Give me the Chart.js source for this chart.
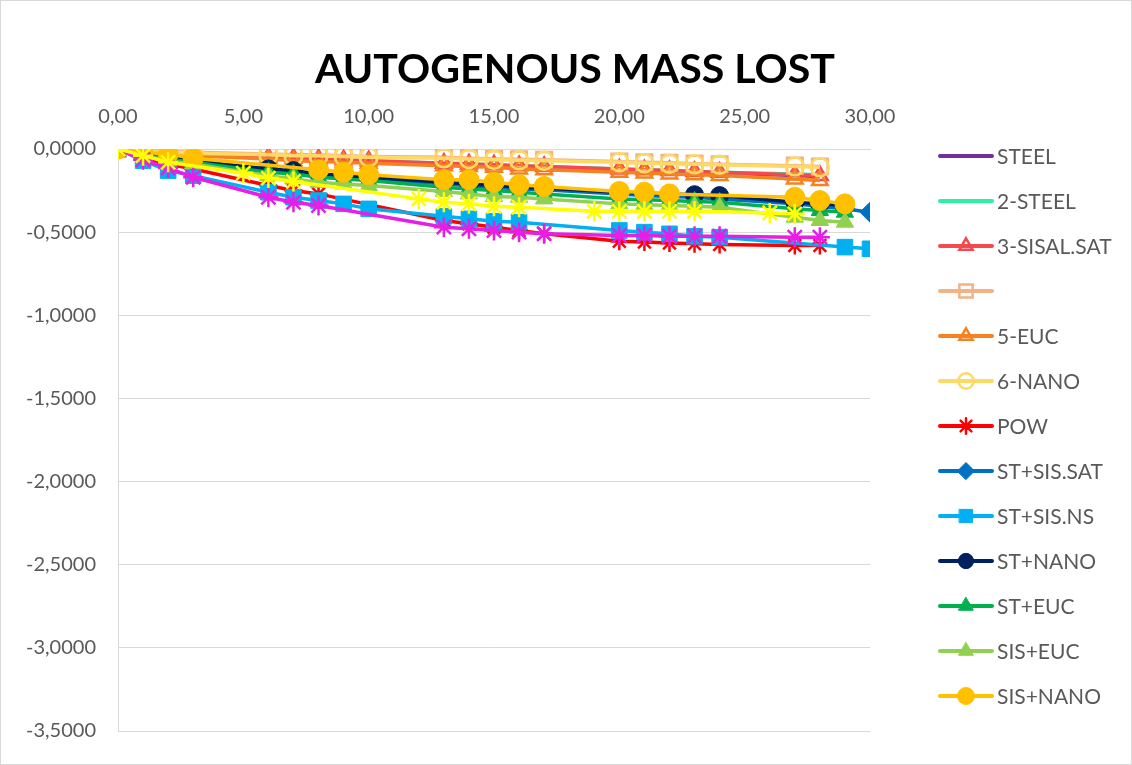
<!DOCTYPE html>
<html>
<head>
<meta charset="utf-8">
<script src="https://cdn.jsdelivr.net/npm/chart.js@4.4.1/dist/chart.umd.min.js"></script>
<style>
  html, body { margin: 0; padding: 0; background: #fff; }
  #wrap { position: relative; width: 1132px; height: 765px; }
</style>
</head>
<body>
<div id="wrap"><canvas id="massChart"></canvas></div>
<script>
const chartTitle = 'AUTOGENOUS MASS LOST';

// measuring days
const days = [0, 1, 2, 3, 6, 7, 8, 9, 10, 13, 14, 15, 16, 17, 20, 21, 22, 23, 24, 27, 28];
const days29 = days.concat([29]);
const days30 = days.concat([29, 30]);
const daysShift = [0, 1, 2, 5, 6, 7, 12, 13, 14, 15, 16, 19, 20, 21, 22, 23, 26, 27];

// mass lost values
const steel     = [0, -0.01, -0.02, -0.03, -0.05, -0.06, -0.065, -0.07, -0.075, -0.09, -0.095, -0.1, -0.105, -0.11, -0.125, -0.13, -0.135, -0.14, -0.145, -0.16, -0.165];
const steel2    = [0, -0.01, -0.02, -0.03, -0.05, -0.055, -0.06, -0.065, -0.07, -0.085, -0.09, -0.095, -0.1, -0.105, -0.12, -0.125, -0.13, -0.135, -0.14, -0.15, -0.155];
const sisalSat  = [0, -0.01, -0.02, -0.03, -0.05, -0.055, -0.06, -0.065, -0.07, -0.085, -0.09, -0.095, -0.1, -0.105, -0.12, -0.125, -0.13, -0.135, -0.14, -0.155, -0.16];
const series4   = [0, -0.01, -0.015, -0.02, -0.03, -0.035, -0.035, -0.04, -0.045, -0.05, -0.055, -0.06, -0.062, -0.065, -0.075, -0.08, -0.083, -0.088, -0.092, -0.1, -0.105];
const euc5      = [0, -0.02, -0.03, -0.04, -0.06, -0.07, -0.075, -0.08, -0.085, -0.1, -0.105, -0.11, -0.12, -0.125, -0.14, -0.145, -0.15, -0.155, -0.16, -0.18, -0.19];
const nano6     = [0, -0.01, -0.02, -0.025, -0.035, -0.04, -0.04, -0.045, -0.05, -0.055, -0.06, -0.065, -0.068, -0.07, -0.08, -0.085, -0.088, -0.092, -0.095, -0.105, -0.11];
const pow       = [0, -0.05, -0.09, -0.12, -0.22, -0.25, -0.27, null, null, -0.43, -0.45, -0.47, -0.49, -0.51, -0.555, -0.56, -0.565, -0.57, -0.575, -0.58, -0.58];
const stSisSat  = [0, -0.03, -0.05, -0.07, -0.13, -0.14, -0.155, -0.165, -0.175, -0.21, -0.22, -0.23, -0.24, -0.245, -0.27, -0.28, -0.285, -0.29, -0.3, -0.33, -0.345, -0.36, -0.38];
const stSisNs   = [0, -0.07, -0.13, -0.16, -0.26, -0.29, -0.31, -0.33, -0.36, -0.405, -0.42, -0.435, -0.44, null, -0.49, -0.5, -0.51, -0.525, -0.53, null, null, -0.59, -0.6];
const stNano    = [0, -0.03, -0.05, -0.07, -0.12, -0.13, -0.15, -0.16, -0.17, -0.2, -0.21, -0.22, -0.23, -0.235, -0.26, -0.265, -0.27, -0.275, -0.28, -0.32, -0.33, -0.34];
const stEuc     = [0, -0.03, -0.06, -0.08, -0.14, -0.15, -0.17, -0.18, -0.19, -0.23, -0.24, -0.25, -0.26, -0.27, -0.3, -0.305, -0.31, -0.315, -0.32, -0.36, -0.37, -0.38];
const sisEuc    = [0, -0.04, -0.07, -0.09, -0.16, -0.18, -0.2, -0.21, -0.22, -0.255, -0.27, -0.285, -0.29, -0.3, -0.33, -0.335, -0.34, -0.345, -0.35, -0.41, -0.43, -0.44];
const sisNano   = [0, -0.02, -0.03, -0.055, null, null, -0.125, -0.14, -0.155, -0.185, -0.185, -0.2, -0.215, -0.225, -0.255, -0.26, -0.27, null, null, -0.29, -0.31, -0.33];
const magentaSt = [0, -0.065, -0.115, -0.17, -0.29, -0.32, -0.34, null, null, -0.47, -0.48, -0.49, -0.5, -0.51, -0.52, -0.52, -0.525, -0.525, -0.525, -0.53, -0.53];
const yellowSt  = [0, -0.04, -0.08, -0.145, -0.175, -0.195, -0.3, -0.32, -0.33, -0.345, -0.35, -0.375, -0.375, -0.375, -0.375, -0.375, -0.385, -0.39];

const xTicks = [0, 5, 10, 15, 20, 25, 30];
const xTickLabels = ['0,00', '5,00', '10,00', '15,00', '20,00', '25,00', '30,00'];
const yTicks = [0, -0.5, -1, -1.5, -2, -2.5, -3, -3.5];
const yTickLabels = ['0,0000', '-0,5000', '-1,0000', '-1,5000', '-2,0000', '-2,5000', '-3,0000', '-3,5000'];

const specs = [
  { label: 'STEEL',       xs: days,      ys: steel,     color: '#7030A0', legend: true },
  { label: '2-STEEL',     xs: days,      ys: steel2,    color: '#2CF0A4', legend: true },
  { label: '3-SISAL.SAT', xs: days,      ys: sisalSat,  color: '#F5494E', legend: true, style: 'triangle', r: 9, open: true },
  { label: '',            xs: days,      ys: series4,   color: '#F4B183', legend: true, style: 'rect', r: 11, open: true },
  { label: '5-EUC',       xs: days,      ys: euc5,      color: '#F5821F', legend: true, style: 'triangle', r: 9, open: true },
  { label: '6-NANO',      xs: days,      ys: nano6,     color: '#FFD966', legend: true, style: 'circle', r: 9, open: true },
  { label: 'POW',         xs: days,      ys: pow,       color: '#FF0000', legend: true, style: 'star', r: 9 },
  { label: 'ST+SIS.SAT',  xs: days30,    ys: stSisSat,  color: '#0070C0', legend: true, style: 'rectRot', r: 10 },
  { label: 'ST+SIS.NS',   xs: days30,    ys: stSisNs,   color: '#00B0F0', legend: true, style: 'rect', r: 11 },
  { label: 'ST+NANO',     xs: days29,    ys: stNano,    color: '#002060', legend: true, style: 'circle', r: 9 },
  { label: 'ST+EUC',      xs: days29,    ys: stEuc,     color: '#00B050', legend: true, style: 'triangle', r: 10 },
  { label: 'SIS+EUC',     xs: days29,    ys: sisEuc,    color: '#92D050', legend: true, style: 'triangle', r: 10 },
  { label: 'SIS+NANO',    xs: days29,    ys: sisNano,   color: '#FFC000', legend: true, style: 'circle', r: 10 },
  { label: 'ST+POW',      xs: days,      ys: magentaSt, color: '#E61EE6', legend: false, style: 'star', r: 10 },
  { label: 'SIS+POW',     xs: daysShift, ys: yellowSt,  color: '#FFFF00', legend: false, style: 'star', r: 10 },
];

function toPoints(xs, ys) {
  return xs.map((x, i) => ({ x: x, y: ys[i] }));
}

function drawMarker(ctx, style, r, x, y) {
  if (Chart.helpers && Chart.helpers.drawPoint) {
    Chart.helpers.drawPoint(ctx, { pointStyle: style, radius: r, rotation: 0, borderWidth: ctx.lineWidth }, x, y);
    return;
  }
  ctx.beginPath();
  ctx.arc(x, y, r, 0, Math.PI * 2);
  ctx.fill();
  ctx.stroke();
}

const extras = {
  id: 'extras',
  afterDraw(chart) {
    const ctx = chart.ctx;
    ctx.save();
    ctx.strokeStyle = '#d9d9d9';
    ctx.lineWidth = 1;
    ctx.strokeRect(0.5, 0.5, chart.width - 1, chart.height - 1);

    // title
    ctx.fillStyle = '#000';
    ctx.font = 'bold 41px Lato';
    ctx.textAlign = 'center';
    ctx.textBaseline = 'middle';
    const w = ctx.measureText(chartTitle).width;
    ctx.save();
    ctx.translate(575, 70);
    ctx.scale(520 / w, 1);
    ctx.fillText(chartTitle, 0, 0);
    ctx.restore();

    // legend
    let row = 0;
    chart.data.datasets.forEach((ds) => {
      if (!ds.inLegend) return;
      const y = 156 + 45 * row;
      row++;
      ctx.strokeStyle = ds.borderColor;
      ctx.lineWidth = 4;
      ctx.lineCap = 'round';
      ctx.beginPath();
      ctx.moveTo(940, y);
      ctx.lineTo(992, y);
      ctx.stroke();
      if (ds.pointRadius > 0) {
        ctx.fillStyle = ds.pointBackgroundColor;
        ctx.strokeStyle = ds.borderColor;
        ctx.lineWidth = ds.pointBorderWidth;
        drawMarker(ctx, ds.pointStyle, ds.pointRadius * 0.85, 966, y);
      }
      ctx.fillStyle = '#595959';
      ctx.font = '21px Lato';
      ctx.textAlign = 'left';
      ctx.textBaseline = 'middle';
      ctx.fillText(ds.label, 997, y + 1);
    });
    ctx.restore();
  }
};

new Chart(document.getElementById('massChart'), {
  type: 'line',
  data: {
    datasets: specs.map((s, i) => ({
      label: s.label,
      data: toPoints(s.xs, s.ys),
      inLegend: s.legend,
      borderColor: s.color,
      backgroundColor: s.color,
      borderWidth: 3.5,
      pointStyle: s.style || 'circle',
      pointRadius: s.style ? s.r : 0,
      pointHoverRadius: s.style ? s.r : 0,
      pointBorderColor: s.color,
      pointBackgroundColor: s.open ? 'rgba(255,255,255,0)' : s.color,
      pointBorderWidth: (s.open || s.style === 'star') ? 2.5 : 1,
      spanGaps: true,
      tension: 0,
      order: specs.length - i,
    })),
  },
  options: {
    responsive: true,
    maintainAspectRatio: false,
    animation: false,
    layout: { padding: { top: 100, right: 262, bottom: 28, left: 0 } },
    plugins: {
      legend: { display: false },
      title: { display: false },
      tooltip: { enabled: false },
    },
    scales: {
      x: {
        type: 'linear',
        position: 'top',
        min: 0,
        max: 30,
        afterFit: (scale) => { scale.height = 49; },
        afterBuildTicks: (scale) => { scale.ticks = xTicks.map((v) => ({ value: v })); },
        grid: { display: false, drawTicks: false },
        border: { display: true, color: '#d9d9d9' },
        ticks: {
          padding: 20,
          color: '#595959',
          font: { family: 'Lato', size: 20 },
          maxRotation: 0,
          callback: (v) => xTickLabels[xTicks.indexOf(v)],
        },
      },
      y: {
        min: -3.5,
        max: 0,
        afterFit: (scale) => { scale.width = 118; },
        afterBuildTicks: (scale) => { scale.ticks = yTicks.map((v) => ({ value: v })); },
        grid: { color: '#d9d9d9', lineWidth: 1, drawTicks: false },
        border: { display: true, color: '#d9d9d9' },
        ticks: {
          padding: 22,
          color: '#595959',
          font: { family: 'Lato', size: 20 },
          callback: (v) => yTickLabels[yTicks.indexOf(v)],
        },
      },
    },
  },
  plugins: [extras],
});
</script>
</body>
</html>
